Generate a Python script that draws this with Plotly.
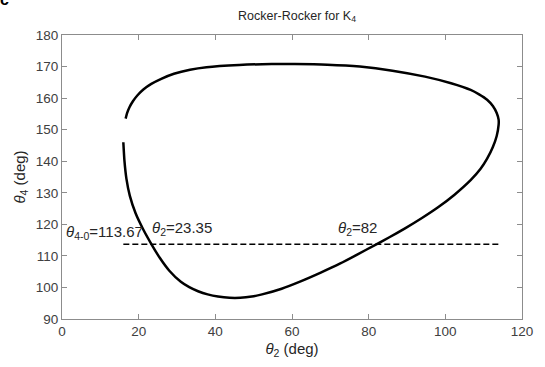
import plotly.graph_objects as go

# Curve (theta2, theta4) in degrees
theta2 = [16.0, 16.3, 16.8, 17.7, 19.2, 21.1, 23.35, 25.5, 28.0, 31.0, 33.2, 35.5, 38.0,
          40.7, 43.7, 46.5, 49.5, 52.2, 57.3, 62.4, 67.5, 72.6, 77.0, 82.0, 85.4, 89.6,
          93.9, 98.1, 102.4, 106.6, 109.2, 110.9, 112.4, 113.4, 113.9, 113.9, 113.4, 112.4,
          110.9, 108.8, 106.6, 101.5, 94.7, 86.2, 77.7, 69.2, 60.7, 54.7, 46.2, 37.7,
          33.4, 29.2, 25.9, 23.3, 21.3, 19.7, 18.5, 17.6, 17.0, 16.6]
theta4 = [146.0, 140.0, 134.5, 129.0, 123.5, 118.6, 113.67, 109.4, 105.3, 101.8, 100.1, 98.8, 97.8,
          97.1, 96.7, 96.7, 97.1, 97.8, 99.6, 102.0, 104.7, 107.6, 110.4, 113.67, 115.9, 118.8,
          122.0, 125.4, 129.4, 134.0, 137.6, 140.8, 144.5, 148.0, 151.5, 153.2, 155.3, 157.5,
          159.5, 161.2, 162.6, 164.7, 166.8, 168.7, 170.0, 170.6, 170.8, 170.8, 170.5, 169.8,
          169.0, 167.7, 166.1, 164.5, 162.8, 160.9, 159.0, 157.1, 155.3, 153.5]

# Horizontal reference line
ref_x = [16.0, 113.9]
ref_y = [113.67, 113.67]

x_ticks = [0, 20, 40, 60, 80, 100, 120]
y_ticks = [90, 100, 110, 120, 130, 140, 150, 160, 170, 180]

FONT = "Liberation Sans, Arial, sans-serif"
TXT = "#262626"

fig = go.Figure()
fig.add_trace(go.Scatter(x=theta2, y=theta4, mode="lines",
                         line=dict(color="black", width=2.5, shape="spline", smoothing=0.6),
                         hoverinfo="skip"))
fig.add_trace(go.Scatter(x=ref_x, y=ref_y, mode="lines",
                         line=dict(color="black", width=1.5, dash="6px,3px"),
                         hoverinfo="skip"))

ann_font = dict(family=FONT, size=15, color=TXT)
fig.add_annotation(x=0.6, y=117.4, xref="x", yref="y", text="<i>θ</i><sub>4-0</sub>=113.67",
                   showarrow=False, xanchor="left", yanchor="middle", font=ann_font)
fig.add_annotation(x=23.0, y=118.8, xref="x", yref="y", text="<i>θ</i><sub>2</sub>=23.35",
                   showarrow=False, xanchor="left", yanchor="middle", font=ann_font)
fig.add_annotation(x=71.4, y=118.6, xref="x", yref="y", text="<i>θ</i><sub>2</sub>=82",
                   showarrow=False, xanchor="left", yanchor="middle", font=ann_font)

# Panel letter remnant at the top-left corner
fig.add_annotation(x=-0.125, y=1.125, xref="paper", yref="paper", text="<b>c</b>",
                   showarrow=False, xanchor="center", yanchor="middle",
                   font=dict(family=FONT, size=16, color="black"))

axis_common = dict(showgrid=False, zeroline=False, showline=True, linecolor="#8c8c8c",
                   linewidth=1, mirror="ticks", ticks="inside", ticklen=5,
                   tickcolor="#8c8c8c", tickfont=dict(family=FONT, size=13.5, color="#404040"))

fig.update_layout(
    width=545, height=367,
    margin=dict(l=62, r=13, t=35, b=47),
    paper_bgcolor="white", plot_bgcolor="white",
    showlegend=False,
    title=dict(text="Rocker-Rocker for K<sub>4</sub>", x=0.545, xanchor="center",
               y=0.958, yanchor="middle", yref="container",
               font=dict(family=FONT, size=12.5, color=TXT)),
    xaxis=dict(range=[0, 120], tickvals=x_ticks, **axis_common,
               title=dict(text="<i>θ</i><sub>2</sub> (deg)", standoff=5,
                          font=dict(family=FONT, size=15, color=TXT))),
    yaxis=dict(range=[90, 180], tickvals=y_ticks, **axis_common,
               title=dict(text="<i>θ</i><sub>4</sub> (deg)", standoff=6,
                          font=dict(family=FONT, size=15, color=TXT))),
)

fig.write_html("out.html")
